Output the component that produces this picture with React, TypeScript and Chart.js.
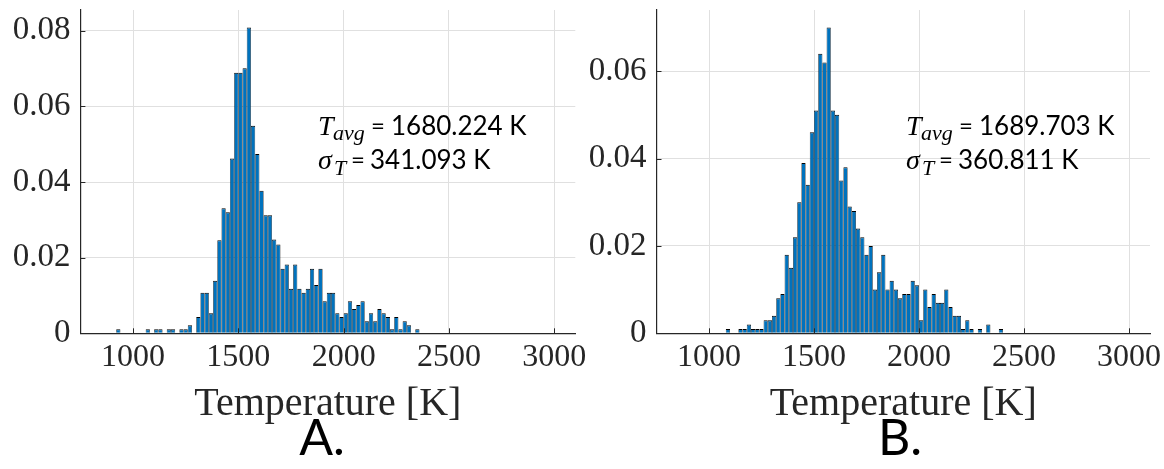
import { useEffect, useRef } from 'react';
import { Chart, registerables } from 'chart.js';

Chart.register(...registerables);

// Histogram bins (kelvin)
const BIN_WIDTH_K = 20;
const FIRST_BIN_A_K = 920;
const FIRST_BIN_B_K = 1080;

// Probability per 20 K bin, case A (bins from 920 K to 2360 K)
const probabilityA = [
  0.0011, 0, 0, 0, 0, 0, 0,
  0.0011, 0, 0.0011, 0.0011, 0, 0.0011, 0.0011, 0, 0.0011, 0.0011, 0.0021, 0,
  0.0043, 0.0107, 0.0107, 0.0053, 0.0139, 0.0246, 0.0331, 0.032, 0.0462, 0.0689, 0.0689, 0.0701, 0.0809,
  0.0549, 0.0474, 0.0377, 0.0312, 0.0312, 0.0248, 0.0235, 0.0171, 0.0182, 0.0118, 0.0182, 0.0118, 0.0107,
  0.0118, 0.0171, 0.0128, 0.0171, 0.0085, 0.0107, 0.0107, 0.0053, 0.0043, 0.0053, 0.0085, 0.0064,
  0.0075, 0.0085, 0.0032, 0.0053, 0.0032, 0.0064, 0.0053, 0.0043, 0.0011, 0.0043, 0.0011, 0.0032, 0.0021, 0, 0.0011,
];

// Probability per 20 K bin, case B (bins from 1080 K to 2400 K)
const probabilityB = [
  0.001, 0, 0, 0.001, 0.001, 0.002, 0.001, 0.001, 0.001, 0.003, 0.003, 0.004,
  0.008, 0.009, 0.018, 0.015, 0.022, 0.03, 0.039, 0.034, 0.046, 0.051, 0.064, 0.062,
  0.07, 0.051, 0.05, 0.035, 0.038, 0.029, 0.028, 0.024, 0.022, 0.018, 0.02, 0.01,
  0.014, 0.018, 0.01, 0.012, 0.01, 0.008, 0.009, 0.009, 0.012, 0.011, 0.003, 0.01,
  0.006, 0.009, 0.007, 0.007, 0.01, 0.006, 0.004, 0.004, 0.001, 0.003, 0.001, 0,
  0.001, 0, 0.002, 0, 0, 0.001,
];

const X_TICKS_K = [1000, 1500, 2000, 2500, 3000];
const Y_TICKS_A = [0, 0.02, 0.04, 0.06, 0.08];
const Y_TICKS_B = [0, 0.02, 0.04, 0.06];
const X_MIN_K = 750;
const X_MAX_K = 3100;
const X_TITLE = 'Temperature [K]';
const MEAN_A = '1680.224';
const STD_A = '341.093';
const MEAN_B = '1689.703';
const STD_B = '360.811';
const CAPTION_A = 'A.';
const CAPTION_B = 'B.';

const HEIGHT = 469;
const PLOT_TOP = 10;
const PLOT_BOTTOM = 333.3;
const SERIF = '"Liberation Serif", "Times New Roman", serif';
const SANS = 'Lato, "Open Sans", sans-serif';
const AXIS_COLOR = '#262626';
const GRID_COLOR = '#e0e0e0';
const BAR_FILL = '#0072BD';
const BAR_EDGE = '#000000';

type Panel = {
  canvasLeft: number;
  canvasWidth: number;
  plotLeft: number;
  plotRight: number;
  yMax: number;
  yTicks: number[];
  firstBin: number;
  probs: number[];
  mean: string;
  std: string;
  statsX: number;
  caption: string;
  captionX: number;
};

const PANEL_A: Panel = {
  canvasLeft: 0,
  canvasWidth: 600,
  plotLeft: 80.4,
  plotRight: 575.3,
  yMax: 0.0855,
  yTicks: Y_TICKS_A,
  firstBin: FIRST_BIN_A_K,
  probs: probabilityA,
  mean: MEAN_A,
  std: STD_A,
  statsX: 318,
  caption: CAPTION_A,
  captionX: 322,
};

const PANEL_B: Panel = {
  canvasLeft: 580,
  canvasWidth: 584,
  plotLeft: 656.5,
  plotRight: 1150,
  yMax: 0.074,
  yTicks: Y_TICKS_B,
  firstBin: FIRST_BIN_B_K,
  probs: probabilityB,
  mean: MEAN_B,
  std: STD_B,
  statsX: 906,
  caption: CAPTION_B,
  captionX: 900,
};

// Mean / standard deviation annotation and the panel letter
const panelText = {
  id: 'panelText',
  afterDatasetsDraw(chart: any, _args: any, opts: any) {
    const { ctx } = chart;
    const x = opts.x;
    ctx.save();
    ctx.fillStyle = '#000';
    ctx.textAlign = 'left';
    ctx.textBaseline = 'alphabetic';

    const b1 = 135;
    ctx.font = `italic 28px ${SERIF}`;
    ctx.fillText('T', x, b1);
    ctx.font = `italic 22px ${SERIF}`;
    ctx.fillText('avg', x + 15, b1 + 5);
    ctx.font = `24px ${SANS}`;
    ctx.fillText('=', x + 53, b1 - 1);
    ctx.font = `26px ${SANS}`;
    ctx.fillText(`${opts.mean} K`, x + 73, b1);

    const b2 = 169;
    ctx.font = `italic 28px ${SERIF}`;
    ctx.fillText('σ', x, b2);
    ctx.font = `italic 22px ${SERIF}`;
    ctx.fillText('T', x + 16, b2 + 6);
    ctx.font = `24px ${SANS}`;
    ctx.fillText('=', x + 33, b2 - 1);
    ctx.font = `26px ${SANS}`;
    ctx.fillText(`${opts.std} K`, x + 52, b2);

    ctx.textAlign = 'center';
    ctx.font = `50px ${SANS}`;
    ctx.fillText(opts.caption, opts.captionX, 455);
    ctx.restore();
  },
};

// Short tick marks pointing into the plot area
const innerTicks = {
  id: 'innerTicks',
  afterDraw(chart: any) {
    const { ctx, chartArea, scales } = chart;
    const len = 5;
    ctx.save();
    ctx.strokeStyle = AXIS_COLOR;
    ctx.lineWidth = 1;
    ctx.beginPath();
    for (const t of scales.x.ticks) {
      const px = Math.round(scales.x.getPixelForValue(t.value)) + 0.5;
      ctx.moveTo(px, chartArea.bottom);
      ctx.lineTo(px, chartArea.bottom - len);
    }
    for (const t of scales.y.ticks) {
      const py = Math.round(scales.y.getPixelForValue(t.value)) + 0.5;
      ctx.moveTo(chartArea.left, py);
      ctx.lineTo(chartArea.left + len, py);
    }
    ctx.stroke();
    ctx.restore();
  },
};

function buildChart(canvas: HTMLCanvasElement, p: Panel) {
  const data = p.probs.map((v, i) => ({ x: p.firstBin + BIN_WIDTH_K * (i + 0.5), y: v }));
  return new Chart(canvas, {
    type: 'bar',
    data: {
      datasets: [
        {
          data,
          backgroundColor: BAR_FILL,
          borderColor: BAR_EDGE,
          borderWidth: { top: 1, left: 0.6, right: 0.6, bottom: 0 },
          borderSkipped: 'start',
          barPercentage: 1,
          categoryPercentage: 1,
          inflateAmount: 0,
        } as any,
      ],
    },
    options: {
      animation: false,
      responsive: false,
      devicePixelRatio: 1,
      layout: {
        padding: {
          left: 0,
          top: PLOT_TOP,
          right: p.canvasWidth - (p.plotRight - p.canvasLeft),
          bottom: 0,
        },
      },
      plugins: {
        legend: { display: false },
        tooltip: { enabled: false },
        panelText: {
          x: p.statsX - p.canvasLeft,
          mean: p.mean,
          std: p.std,
          caption: p.caption,
          captionX: p.captionX - p.canvasLeft,
        },
      } as any,
      scales: {
        x: {
          type: 'linear',
          min: X_MIN_K,
          max: X_MAX_K,
          offset: false,
          grid: { color: GRID_COLOR, lineWidth: 1, drawTicks: false, offset: false },
          border: { display: true, color: AXIS_COLOR, width: 1.2, z: 1 },
          ticks: {
            font: { family: SERIF, size: 32 },
            color: AXIS_COLOR,
            padding: 5,
            maxRotation: 0,
            autoSkip: false,
            callback: (v: any) => String(v),
          },
          afterBuildTicks: (s: any) => {
            s.ticks = X_TICKS_K.map((value) => ({ value }));
          },
          afterFit: (s: any) => {
            s.height = HEIGHT - PLOT_BOTTOM;
            s.paddingLeft = 0;
            s.paddingRight = 0;
          },
          title: {
            display: true,
            text: X_TITLE,
            font: { family: SERIF, size: 40 },
            color: AXIS_COLOR,
            padding: { top: 0, bottom: 41 },
          },
        },
        y: {
          type: 'linear',
          min: 0,
          max: p.yMax,
          grid: { color: GRID_COLOR, lineWidth: 1, drawTicks: false },
          border: { display: true, color: AXIS_COLOR, width: 1.2, z: 1 },
          ticks: {
            font: { family: SERIF, size: 33 },
            color: AXIS_COLOR,
            padding: 10,
            autoSkip: false,
            callback: (v: any) => (v === 0 ? '0' : Number(v).toFixed(2)),
          },
          afterBuildTicks: (s: any) => {
            s.ticks = p.yTicks.map((value) => ({ value }));
          },
          afterFit: (s: any) => {
            s.width = p.plotLeft - p.canvasLeft;
            s.paddingTop = 0;
            s.paddingBottom = 0;
          },
        },
      } as any,
    },
    plugins: [panelText, innerTicks],
  });
}

export default function App() {
  const refA = useRef<HTMLCanvasElement>(null);
  const refB = useRef<HTMLCanvasElement>(null);

  useEffect(() => {
    const charts = [buildChart(refA.current!, PANEL_A), buildChart(refB.current!, PANEL_B)];
    return () => charts.forEach((c) => c.destroy());
  }, []);

  return (
    <div
      style={{
        position: 'absolute',
        left: 0,
        top: 0,
        width: 1164,
        height: HEIGHT,
        background: '#fff',
        overflow: 'hidden',
      }}
    >
      <canvas
        ref={refA}
        width={PANEL_A.canvasWidth}
        height={HEIGHT}
        style={{ position: 'absolute', left: PANEL_A.canvasLeft, top: 0, width: PANEL_A.canvasWidth, height: HEIGHT }}
      />
      <canvas
        ref={refB}
        width={PANEL_B.canvasWidth}
        height={HEIGHT}
        style={{ position: 'absolute', left: PANEL_B.canvasLeft, top: 0, width: PANEL_B.canvasWidth, height: HEIGHT }}
      />
    </div>
  );
}
